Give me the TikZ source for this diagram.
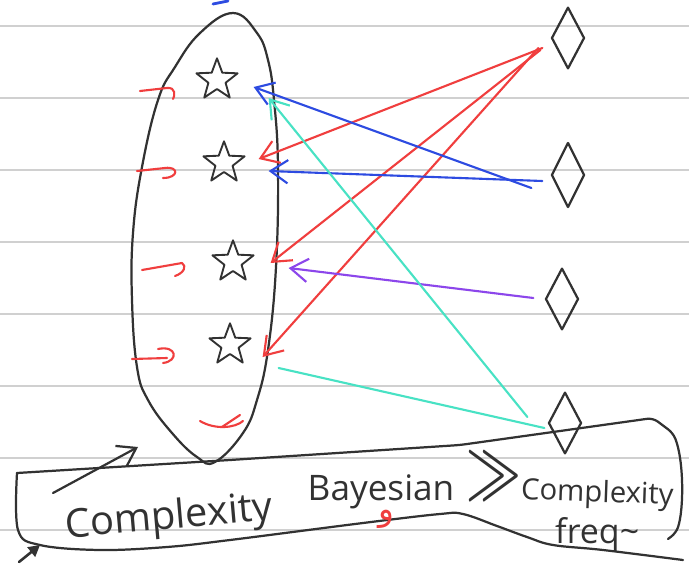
\documentclass[tikz,border=0pt]{standalone}
\usepackage{fontspec}
\newfontfamily\handfont{Open Sans}
\newfontfamily\arabicfont[Script=Arabic]{DejaVu Sans}
\TeXXeTstate=1
\usetikzlibrary{arrows.meta,shapes.geometric,calc}
\definecolor{inkred}{RGB}{240,62,62}
\definecolor{inkblue}{RGB}{45,75,225}
\definecolor{inkpurple}{RGB}{140,70,235}
\definecolor{inkcyan}{RGB}{72,226,196}
\definecolor{inkgray}{RGB}{50,50,50}
\definecolor{ruled}{RGB}{208,208,208}

\begin{document}
\begin{tikzpicture}[
  x=0.03cm, y=-0.03cm,
  >={Straight Barb[length=5.2mm,width=7mm]},
  pen/.style={line width=1.8pt,line cap=round,line join=round},
  ink/.style={pen,line width=1.9pt,draw=inkgray},
  redpen/.style={pen,draw=inkred},
  link/.style={pen,->},
  starnode/.style={star,star points=5,star point ratio=2.4,minimum size=1.3cm,inner sep=0pt,ink,line width=1.6pt},
  gem/.style={diamond,minimum width=0.99cm,minimum height=1.85cm,inner sep=0pt,ink},
  hand/.style={text=inkgray,inner sep=0pt,anchor=base},
]
\useasboundingbox[fill=white] (0,0) rectangle (689,578);
% ---- ruled paper ----
\foreach \ly in {26,98,...,530}
  \draw[ruled,line width=1.5pt] (0,\ly) -- (689,\ly);
% ---- the set (egg) with its stars ----
\draw[ink] plot[smooth cycle,tension=0.7] coordinates {(233,13) (257,33) (268,60) (274,100) (278,167) (276,267) (268,350) (257,400) (243,433) (215,462) (197,457) (172,433) (148,400) (137,367) (132,300) (133,233) (142,167) (158,100) (175,67) (200,33)};
\node[starnode] (s1) at (217,80) {};
\node[starnode] (s2) at (224,163) {};
\node[starnode] (s3) at (233,262) {};
\node[starnode] (s4) at (230,345) {};
% ---- red hooks on the left ----
\draw[redpen] (140,91) -- (167,88) .. controls (176,87) and (175,96) .. (173,99);
\draw[redpen] (137,171) -- (165,168) .. controls (179,166) and (179,178) .. (163,178);
\draw[redpen] (142,270) -- (182,263) .. controls (187,266) and (184,273) .. (175,276);
\draw[redpen] (132,359) -- (167,358);
\draw[redpen] (158,349) .. controls (177,345) and (179,361) .. (163,363);
\draw[redpen] (200,421) .. controls (215,430) and (235,428) .. (243,421);
\draw[redpen] (222,427) -- (240,415);
% ---- diamonds on the right ----
\node[gem] (d1) at (568,38) {};
\node[gem,minimum height=1.95cm] (d2) at (568,175) {};
\node[gem] (d3) at (562,299) {};
\node[gem] (d4) at (565,423) {};
% ---- links diamond -> star ----
\draw[link,inkred] ($(d1.west)+(-8,10)$) -- ($(s2.east)+(21,-4)$);
\draw[link,inkred] ($(d1.west)+(-10,12)$) -- ($(s3.east)+(24,1)$);
\draw[link,inkred] ($(d1.west)+(-12,10)$) -- ($(s4.east)+(19,12)$);
\draw[link,inkblue] ($(d2.west)+(-19,13)$) -- ($(s1.east)+(23,7)$);
\draw[link,inkblue] ($(d2.west)+(-8,6)$) -- ($(s2.east)+(31,8)$);
\draw[link,inkpurple] ($(d3.west)+(-11,-1)$) -- ($(s3.east)+(42,6)$);
\draw[link,inkcyan] ($(d4.west)+(-20,-6)$) -- ($(s1.east)+(38,18)$);
\draw[pen,inkcyan] ($(d4.west)+(-3,5)$) -- ($(s4.east)+(35,23)$);
% ---- bottom banner ----
\draw[ink,rounded corners=5] (17,473) -- (230,460) -- (460,445) -- (653,418) -- (673,433) .. controls (684,460) and (684,510) .. (676,533) -- (668,539);
\draw[ink] plot[smooth,tension=0.6] coordinates {(17,473) (18,530) (40,545) (100,550) (167,547) (230,540) (363,523) (440,514) (463,514) (497,526) (527,537) (553,545) (603,550) (683,560)};
\node[hand,font=\handfont\fontsize{34}{40}\selectfont,rotate=5] (cxb) at (170,529) {Complexity};
\node[hand,font=\handfont\fontsize{30}{36}\selectfont] (bay) at (381,500) {Bayesian};
\node[hand,font=\fontsize{40}{44}\selectfont] (gg) at (494,499) {\scalebox{1.25}[2]{>\kern-0.52em>}};
\node[hand,font=\handfont\fontsize{25}{30}\selectfont,rotate=-2] (cxf) at (597,502) {Complexity};
\node[hand,font=\handfont\fontsize{29}{32}\selectfont,anchor=base west] (frq) at (555,543) {freq\textasciitilde};
\node[text=inkred,inner sep=0pt,font=\arabicfont\fontsize{28}{30}\selectfont] (wa) at (386,519) {\beginR و\endR};
% ---- pointer from banner to the set ----
\coordinate (pa) at (53,493);
\coordinate (pb) at (138,447);
\draw[ink,->] (pa) -- (pb);
\coordinate (ma) at (19,562);
\coordinate (mb) at (40,545);
\draw[ink,line width=2.2pt,-{Triangle[length=3.4mm,width=3.6mm]}] (ma) -- (mb);
\coordinate (ta) at (213,4);
\coordinate (tb) at (228,1);
\draw[pen,inkblue,line width=2.4pt] (ta) -- (tb);
\end{tikzpicture}
\end{document}
